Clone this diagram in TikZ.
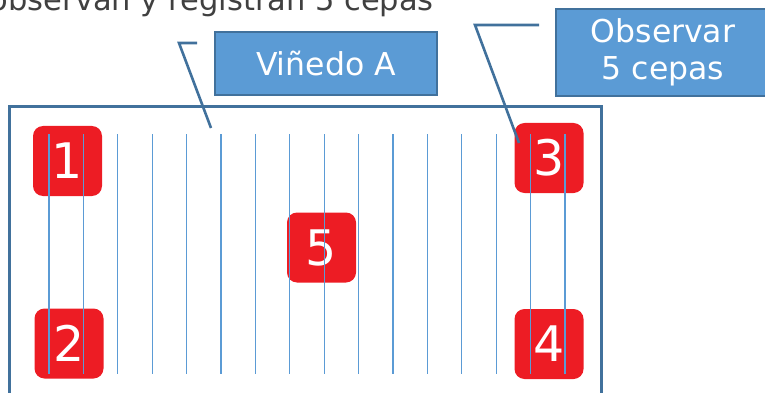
\documentclass[tikz,border=0pt]{standalone}
\usepackage{fontspec}
\setmainfont{DejaVu Sans}
\definecolor{boxblue}{HTML}{5B9BD5}
\definecolor{edgeblue}{HTML}{41719C}
\definecolor{rowblue}{HTML}{5B9BD5}
\definecolor{stockred}{HTML}{ED1C24}
\definecolor{titlegray}{HTML}{404040}
\begin{document}
\begin{tikzpicture}[x=1pt,y=-1pt,
  labelbox/.style={draw=edgeblue,line width=2.6pt,fill=boxblue,text=white,font=\fontsize{31.5}{37}\selectfont,align=center,inner sep=0pt},
  stockbox/.style={fill=stockred,rounded corners=10pt,minimum width=69pt,minimum height=70pt,inner sep=0pt,text=white,font=\fontsize{49}{49}\selectfont},
  callout/.style={draw=edgeblue,line width=2.6pt},
  rowline/.style={draw=rowblue,line width=1.3pt}]
\useasboundingbox (0,0) rectangle (765,393);
% top title (cut by the page)
\node[anchor=base east,inner sep=0pt,text=titlegray,font=\fontsize{30.5}{36}\selectfont] (title) at (434,11) {observan y registran 5 cepas};
% vineyard outline
\draw[edgeblue,line width=3pt] (9,400) -- (9,107) -- (601,107) -- (601,400);
% red plants
\node[stockbox] (p1) at (67.5,161) {1};
\node[stockbox] (p2) at (69,343.5) {2};
\node[stockbox] (p3) at (549,158) {3};
\node[stockbox] (p4) at (549,344) {4};
\node[stockbox] (p5) at (321.5,247.5) {5};
% rows
\foreach \i in {0,...,15} {
  \draw[rowline] ({49+34.4*\i},134) -- ({49+34.4*\i},374);
}
% label boxes
\node[labelbox,minimum width=222pt,minimum height=63pt] (vin) at (326,63.5) {Viñedo A};
\node[labelbox,minimum width=214pt,minimum height=87pt] (obs) at (663,52.5) {Observar\\5 cepas};
% callouts
\coordinate (v1) at (197,43);
\coordinate (v2) at (179,43);
\coordinate (v3) at (211,128);
\draw[callout] (v1) -- (v2) -- (v3);
\coordinate (o1) at (539,25);
\coordinate (o2) at (475,25);
\coordinate (o3) at (519,143);
\draw[callout] (o1) -- (o2) -- (o3);
\end{tikzpicture}
\end{document}
